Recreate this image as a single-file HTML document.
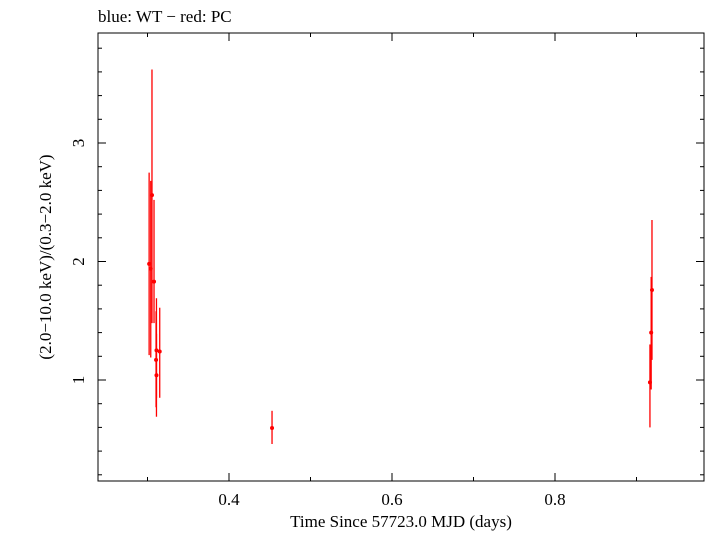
<!DOCTYPE html>
<html><head><meta charset="utf-8"><style>
html,body{margin:0;padding:0;background:#fff;}
svg text{font-family:"Liberation Serif",serif;fill:#000;}
</style></head><body>
<svg id="chart" width="705" height="532" xmlns="http://www.w3.org/2000/svg">
<text x="98" y="22" font-size="17">blue: WT − red: PC</text>
<rect x="98" y="33" width="606" height="448" fill="none" stroke="#000" stroke-width="1"/>
<g id="axes"></g>
<g id="series"></g>
<text x="401" y="527" font-size="17" text-anchor="middle">Time Since 57723.0 MJD (days)</text>
<text transform="translate(51,257) rotate(-90)" font-size="17" text-anchor="middle">(2.0−10.0 keV)/(0.3−2.0 keV)</text>
</svg>
<script>
const times=[0.302,0.304,0.3055,0.308,0.3105,0.311,0.311,0.315,0.4528,0.9165,0.918,0.919];
const ratios=[1.98,1.94,2.56,1.83,1.17,1.25,1.04,1.24,0.595,0.98,1.40,1.76];
const errLow=[1.21,1.19,1.48,1.48,0.77,0.85,0.69,0.85,0.46,0.60,0.92,1.17];
const errHigh=[2.75,2.68,3.62,2.52,1.58,1.69,1.39,1.61,0.74,1.30,1.87,2.35];
const xTicks=[0.4,0.6,0.8];
const yTicks=[1,2,3];
const L=98,R=704,T=33,B=481;
const X=v=>229+(v-0.4)*815;
const Y=v=>498.5-v*118.5;
const NS="http://www.w3.org/2000/svg";
const ax=document.getElementById('axes'),sr=document.getElementById('series');
function ln(p,x1,y1,x2,y2,c,w,name){const e=document.createElementNS(NS,'line');
e.setAttribute('x1',x1);e.setAttribute('y1',y1);e.setAttribute('x2',x2);e.setAttribute('y2',y2);
e.setAttribute('stroke',c);e.setAttribute('stroke-width',w);


p.appendChild(e);return e;}
for(let v=0.3;v<0.96;v+=0.1){const x=X(v);const major=xTicks.some(t=>Math.abs(t-v)<1e-6);const len=major?8:4;
ln(ax,x,B,x,B-len,'#000',1,'x-tick');ln(ax,x,T,x,T+len,'#000',1,'x-tick-top');}
xTicks.forEach(v=>{const t=document.createElementNS(NS,'text');t.setAttribute('x',X(v));t.setAttribute('y',505);t.setAttribute('font-size','17');t.setAttribute('text-anchor','middle');t.textContent=v.toFixed(1);


ax.appendChild(t);});
for(let i=1;i<=19;i++){const v=i*0.2;const y=Y(v);if(y<T||y>B)continue;const major=yTicks.some(t=>Math.abs(t-v)<1e-6);const len=major?8:4;
ln(ax,L,y,L+len,y,'#000',1,'y-tick');ln(ax,R,y,R-len,y,'#000',1,'y-tick-right');}
yTicks.forEach(v=>{const t=document.createElementNS(NS,'text');t.setAttribute('transform',`translate(84,${Y(v)}) rotate(-90)`);t.setAttribute('font-size','17');t.setAttribute('text-anchor','middle');t.textContent=v;


ax.appendChild(t);});
times.forEach((t,i)=>{const x=X(t);
ln(sr,x,Y(errLow[i]),x,Y(errHigh[i]),'#f00',1.3,'error-bar');
const c=document.createElementNS(NS,'circle');c.setAttribute('cx',x);c.setAttribute('cy',Y(ratios[i]));c.setAttribute('r',2);c.setAttribute('fill','#f00');


sr.appendChild(c);});
</script>
</body></html>
